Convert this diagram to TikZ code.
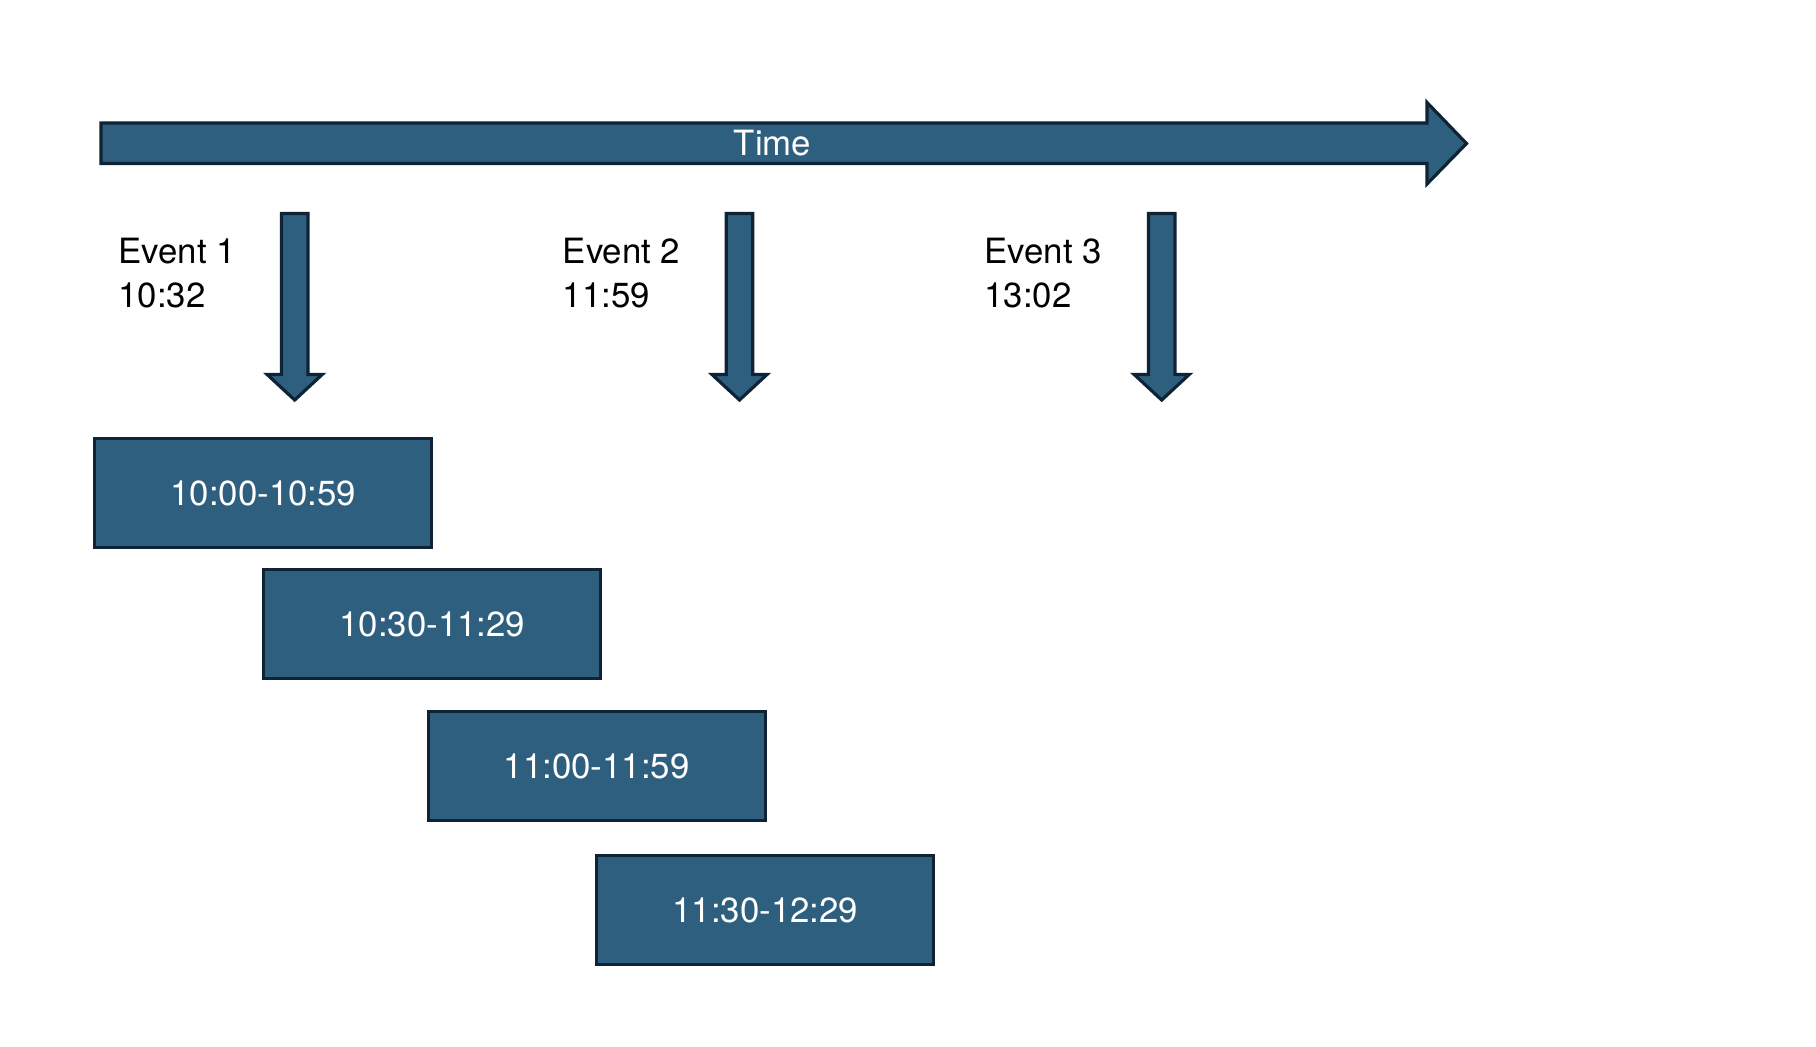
\documentclass[tikz,border=0pt]{standalone}
\usepackage{fontspec}
\setmainfont{TeX Gyre Heros}
\definecolor{boxfill}{RGB}{47,95,126}
\definecolor{boxline}{RGB}{14,36,54}
\begin{document}
\begin{tikzpicture}[x=0.5pt,y=-0.5pt,
  shapestyle/.style={fill=boxfill,draw=boxline,line width=1.6pt,line join=miter},
  tbox/.style={shapestyle,rectangle,minimum width=168.5pt,minimum height=54.5pt,inner sep=0pt,
    text=white,font=\fontsize{17.4}{22}\selectfont},
  evlabel/.style={anchor=base west,align=left,inner sep=0pt,text=black,font=\fontsize{17.4}{22}\selectfont},
  timelabel/.style={inner sep=0pt,text=white,font=\fontsize{17.4}{22}\selectfont}]
\useasboundingbox (0,0) rectangle (1816,1046);
% Time arrow
\draw[shapestyle] (101,123) -- (1427,123) -- (1427,102.5) -- (1466.5,143.5) -- (1427,184) -- (1427,163.5) -- (101,163.5) -- cycle;
\node[timelabel] (time) at (772.5,143) {Time};
% Event arrows
\foreach \cx/\nm in {294.7/e1, 739.5/e2, 1161.7/e3}{
  \draw[shapestyle] (\cx-13.2,213.5) -- (\cx+13.2,213.5) -- (\cx+13.2,374.5) -- (\cx+27.5,374.5)
     -- (\cx,400) -- (\cx-27.5,374.5) -- (\cx-13.2,374.5) -- cycle;
}
\node[evlabel] (l1) at (118,307) {Event 1\\10:32};
\node[evlabel] (l2) at (562.5,307) {Event 2\\11:59};
\node[evlabel] (l3) at (984,307) {Event 3\\13:02};
% Boxes
\node[tbox] (b1) at (263.3,493.3) {10:00-10:59};
\node[tbox] (b2) at (432.3,624.2) {10:30-11:29};
\node[tbox] (b3) at (596.7,766.3) {11:00-11:59};
\node[tbox] (b4) at (765.3,910.3) {11:30-12:29};
\end{tikzpicture}
\end{document}
